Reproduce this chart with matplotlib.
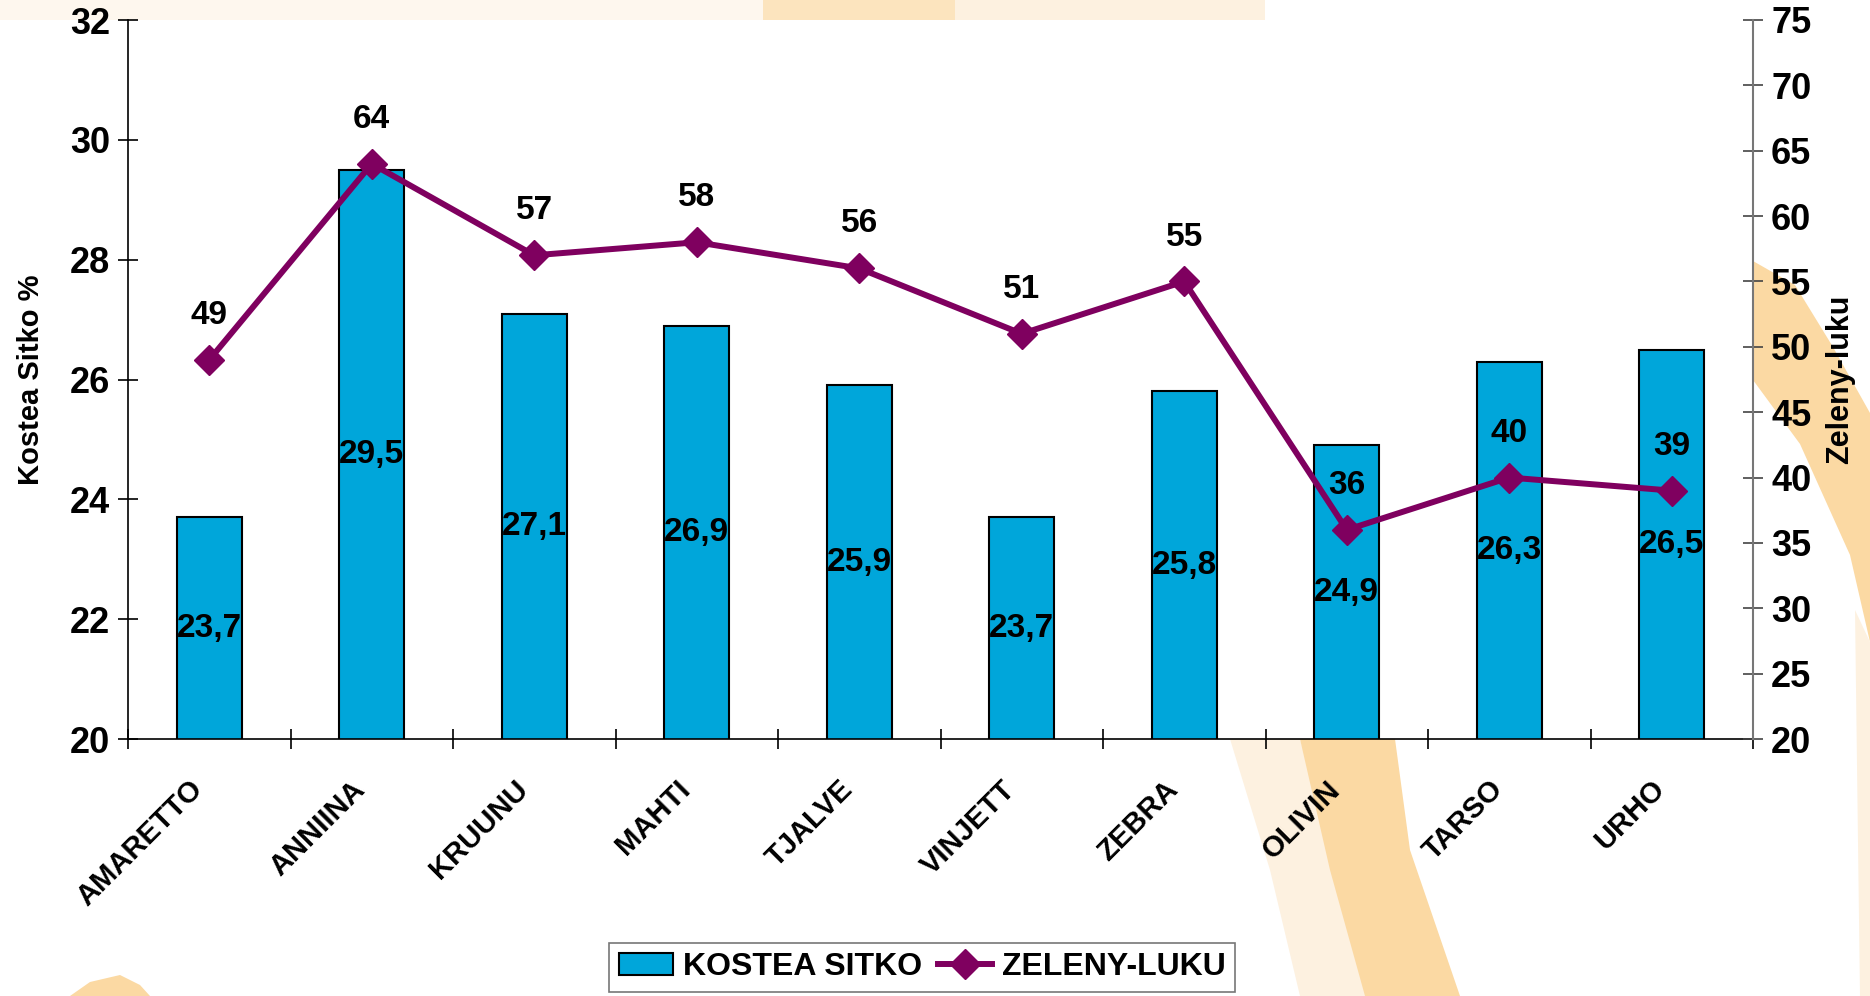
import matplotlib.pyplot as plt
import numpy as np
from matplotlib.patches import Polygon

plt.rcParams['font.family'] = ['Liberation Sans', 'DejaVu Sans']
plt.rcParams['font.weight'] = 'bold'

# data
lajikkeet = ['AMARETTO', 'ANNIINA', 'KRUUNU', 'MAHTI', 'TJALVE',
             'VINJETT', 'ZEBRA', 'OLIVIN', 'TARSO', 'URHO']
kostea_sitko = [23.7, 29.5, 27.1, 26.9, 25.9, 23.7, 25.8, 24.9, 26.3, 26.5]
zeleny_luku = [49, 64, 57, 58, 56, 51, 55, 36, 40, 39]

bar_color = '#00A6DA'
line_color = '#7F005F'

fig = plt.figure(figsize=(18.7, 9.96), dpi=100)
fig.patch.set_facecolor('white')

# faint background decoration (logo swirl behind the plot), pixel coords
W, H = 1870, 996
def band(pts, color, alpha=1.0):
    xy = [(px / W, 1 - py / H) for px, py in pts]
    fig.add_artist(Polygon(xy, closed=True, transform=fig.transFigure,
                           facecolor=color, edgecolor='none', alpha=alpha,
                           zorder=0))

orange = '#FBD9A3'
pale = '#FDF1E0'
band([(0, 0), (763, 0), (763, 20), (0, 20)], '#FEF7EE')
band([(763, 0), (955, 0), (955, 20), (763, 20)], orange, 0.7)
band([(955, 0), (1265, 0), (1265, 20), (955, 20)], pale)
band([(1230, 739), (1300, 739), (1340, 880), (1370, 996), (1300, 996),
      (1270, 870)], pale)
band([(1300, 739), (1395, 739), (1410, 850), (1460, 996), (1365, 996),
      (1330, 870)], orange)
band([(1753, 261), (1795, 285), (1833, 347), (1870, 413), (1870, 642),
      (1850, 555), (1800, 444), (1753, 380)], orange)
band([(1855, 610), (1870, 642), (1870, 996), (1860, 996)], pale)
band([(70, 996), (90, 982), (120, 975), (140, 985), (150, 996)], orange)

ax = fig.add_axes([128 / W, 1 - 739 / H, (1753 - 128) / W, (739 - 20) / H])
ax.set_facecolor('white')
ax.set_zorder(2)

x = np.arange(len(lajikkeet))
ax.bar(x, kostea_sitko, width=0.4, color=bar_color, edgecolor='black',
       linewidth=1.5, label='KOSTEA SITKO', zorder=2)
ax.set_ylim(20, 32)
ax.set_yticks(np.arange(20, 33, 2))
ax.set_xlim(-0.5, len(lajikkeet) - 0.5)
ax.set_xticks(np.arange(-0.5, len(lajikkeet)))
ax.set_xticklabels([])
ax.tick_params(axis='x', direction='inout', length=14, width=1.2)
ax.tick_params(axis='y', direction='inout', length=14, width=1.2,
               labelsize=26, pad=6)
for lbl in ax.get_yticklabels():
    lbl.set_fontweight('bold')
ax.set_ylabel('Kostea Sitko %', fontsize=21, fontweight='bold', labelpad=18)
ax.spines['top'].set_visible(False)
ax.spines['right'].set_visible(False)
ax.spines['left'].set_linewidth(1.2)
ax.spines['bottom'].set_linewidth(1.2)

# category names, rotated under each bar
for xi, name in zip(x, lajikkeet):
    ax.annotate(name, (xi, 0), xycoords=('data', 'axes fraction'),
                xytext=(-15, -26), textcoords='offset points', rotation=45,
                rotation_mode='anchor', ha='right', va='top',
                fontsize=21, fontweight='bold', annotation_clip=False)

for xi, v in zip(x, kostea_sitko):
    ax.text(xi, (20 + v) / 2, f'{v:.1f}'.replace('.', ','), ha='center',
            va='center', fontsize=24, fontweight='bold', zorder=5)

ax2 = ax.twinx()
ax2.plot(x, zeleny_luku, color=line_color, linewidth=4.3, marker='D',
         markersize=15, label='ZELENY-LUKU', zorder=4)
ax2.set_ylim(20, 75)
ax2.set_yticks(np.arange(20, 76, 5))
ax2.tick_params(axis='y', direction='inout', length=14, width=1.2,
                labelsize=26, pad=6, color='#444444')
for lbl in ax2.get_yticklabels():
    lbl.set_fontweight('bold')
ax2.spines['top'].set_visible(False)
ax2.spines['left'].set_visible(False)
ax2.spines['bottom'].set_visible(False)
ax2.spines['right'].set_color('#777777')
ax2.spines['right'].set_linewidth(1.5)
ax2.set_ylabel('Zeleny-luku', fontsize=22, fontweight='bold', labelpad=10)

for xi, v in zip(x, zeleny_luku):
    ax2.annotate(str(v), (xi, v), xytext=(0, 32), textcoords='offset points',
                 ha='center', va='center', fontsize=24, fontweight='bold')

h1, l1 = ax.get_legend_handles_labels()
h2, l2 = ax2.get_legend_handles_labels()
leg = fig.legend(h1 + h2, l1 + l2, loc='lower center',
                 bbox_to_anchor=(922 / W, 4 / H), ncol=2, frameon=True,
                 fancybox=False, edgecolor='#555555', borderaxespad=0,
                 prop={'weight': 'bold', 'size': 23}, handlelength=1.7,
                 handletextpad=0.3, columnspacing=0.5, borderpad=0.3)
leg.get_frame().set_linewidth(1.2)

fig.savefig('out.png', dpi=100)
